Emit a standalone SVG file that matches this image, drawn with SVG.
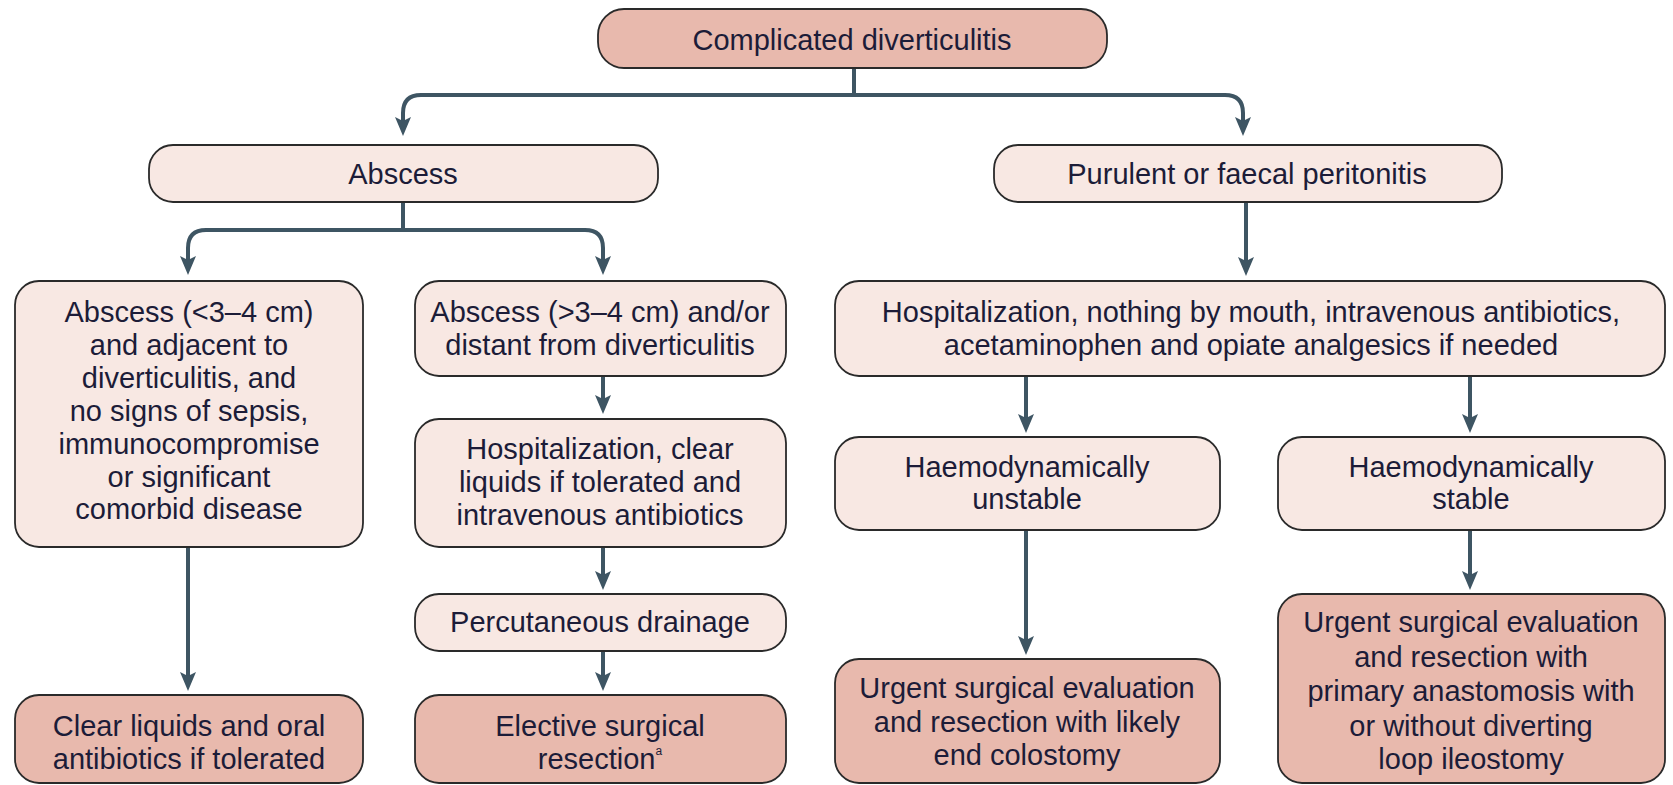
<svg xmlns="http://www.w3.org/2000/svg" width="1673" height="785" viewBox="0 0 1673 785">
<defs>
<marker id="ah" markerUnits="userSpaceOnUse" markerWidth="20" markerHeight="18" refX="14" refY="9" orient="auto">
<path d="M0,1 L19,9 L0,17 L4,9 Z" fill="#3e5563"/>
</marker>
<style>
.dark{fill:#e8b9ad;stroke:#2a2a2a;stroke-width:1.8}
.light{fill:#f8e8e3;stroke:#2a2a2a;stroke-width:1.8}
text{font-family:"Liberation Sans",Arial,sans-serif;font-size:29px;fill:#1c1c38;text-anchor:middle}
.c{fill:none;stroke:#3e5563;stroke-width:4}
.a{fill:none;stroke:#3e5563;stroke-width:4;marker-end:url(#ah)}
</style>
</defs>
<rect width="1673" height="785" fill="#ffffff"/>
<g id="connectors">
<path class="c" d="M854,68 V95"/>
<path class="a" d="M854,95 H421 Q403,95 403,113 V131"/>
<path class="a" d="M854,95 H1225 Q1243,95 1243,113 V131"/>
<path class="c" d="M403,202 V230"/>
<path class="a" d="M403,230 H206 Q188,230 188,248 V270"/>
<path class="a" d="M403,230 H585 Q603,230 603,248 V270"/>
<path class="a" d="M1246,202 V271"/>
<path class="a" d="M603,376 V409"/>
<path class="a" d="M603,547 V585"/>
<path class="a" d="M603,651 V686"/>
<path class="a" d="M188,547 V686"/>
<path class="a" d="M1026,376 V428"/>
<path class="a" d="M1470,376 V428"/>
<path class="a" d="M1026,530 V650"/>
<path class="a" d="M1470,530 V585"/>
</g>
<g id="n-complicated">
<rect class="dark" x="598" y="9" width="509" height="59" rx="26"/>
<text x="852" y="50">Complicated diverticulitis</text>
</g>
<g id="n-abscess">
<rect class="light" x="149" y="145" width="509" height="57" rx="24"/>
<text x="403" y="184">Abscess</text>
</g>
<g id="n-peritonitis">
<rect class="light" x="994" y="145" width="508" height="57" rx="24"/>
<text x="1247" y="184">Purulent or faecal peritonitis</text>
</g>
<g id="n-small-abscess">
<rect class="light" x="15" y="281" width="348" height="266" rx="24"/>
<text x="189" y="322">Abscess (&lt;3–4 cm)</text>
<text x="189" y="355">and adjacent to</text>
<text x="189" y="388">diverticulitis, and</text>
<text x="189" y="421">no signs of sepsis,</text>
<text x="189" y="454">immunocompromise</text>
<text x="189" y="487">or significant</text>
<text x="189" y="519">comorbid disease</text>
</g>
<g id="n-large-abscess">
<rect class="light" x="415" y="281" width="371" height="95" rx="24"/>
<text x="600" y="322">Abscess (&gt;3–4 cm) and/or</text>
<text x="600" y="355">distant from diverticulitis</text>
</g>
<g id="n-hosp-right">
<rect class="light" x="835" y="281" width="830" height="95" rx="24"/>
<text x="1251" y="322">Hospitalization, nothing by mouth, intravenous antibiotics,</text>
<text x="1251" y="355">acetaminophen and opiate analgesics if needed</text>
</g>
<g id="n-hosp-left">
<rect class="light" x="415" y="419" width="371" height="128" rx="24"/>
<text x="600" y="459">Hospitalization, clear</text>
<text x="600" y="492">liquids if tolerated and</text>
<text x="600" y="525">intravenous antibiotics</text>
</g>
<g id="n-drainage">
<rect class="light" x="415" y="594" width="371" height="57" rx="24"/>
<text x="600" y="632">Percutaneous drainage</text>
</g>
<g id="n-clear">
<rect class="dark" x="15" y="695" width="348" height="88" rx="24"/>
<text x="189" y="736">Clear liquids and oral</text>
<text x="189" y="769">antibiotics if tolerated</text>
</g>
<g id="n-elective">
<rect class="dark" x="415" y="695" width="371" height="88" rx="24"/>
<text x="600" y="736">Elective surgical</text>
<text x="600" y="769">resection<tspan font-size="12" dy="-14">a</tspan></text>
</g>
<g id="n-unstable">
<rect class="light" x="835" y="437" width="385" height="93" rx="24"/>
<text x="1027" y="477">Haemodynamically</text>
<text x="1027" y="509">unstable</text>
</g>
<g id="n-stable">
<rect class="light" x="1278" y="437" width="387" height="93" rx="24"/>
<text x="1471" y="477">Haemodynamically</text>
<text x="1471" y="509">stable</text>
</g>
<g id="n-urgent-left">
<rect class="dark" x="835" y="659" width="385" height="124" rx="24"/>
<text x="1027" y="698">Urgent surgical evaluation</text>
<text x="1027" y="732">and resection with likely</text>
<text x="1027" y="765">end colostomy</text>
</g>
<g id="n-urgent-right">
<rect class="dark" x="1278" y="594" width="387" height="189" rx="24"/>
<text x="1471" y="632">Urgent surgical evaluation</text>
<text x="1471" y="667">and resection with</text>
<text x="1471" y="701">primary anastomosis with</text>
<text x="1471" y="736">or without diverting</text>
<text x="1471" y="769">loop ileostomy</text>
</g>
</svg>
